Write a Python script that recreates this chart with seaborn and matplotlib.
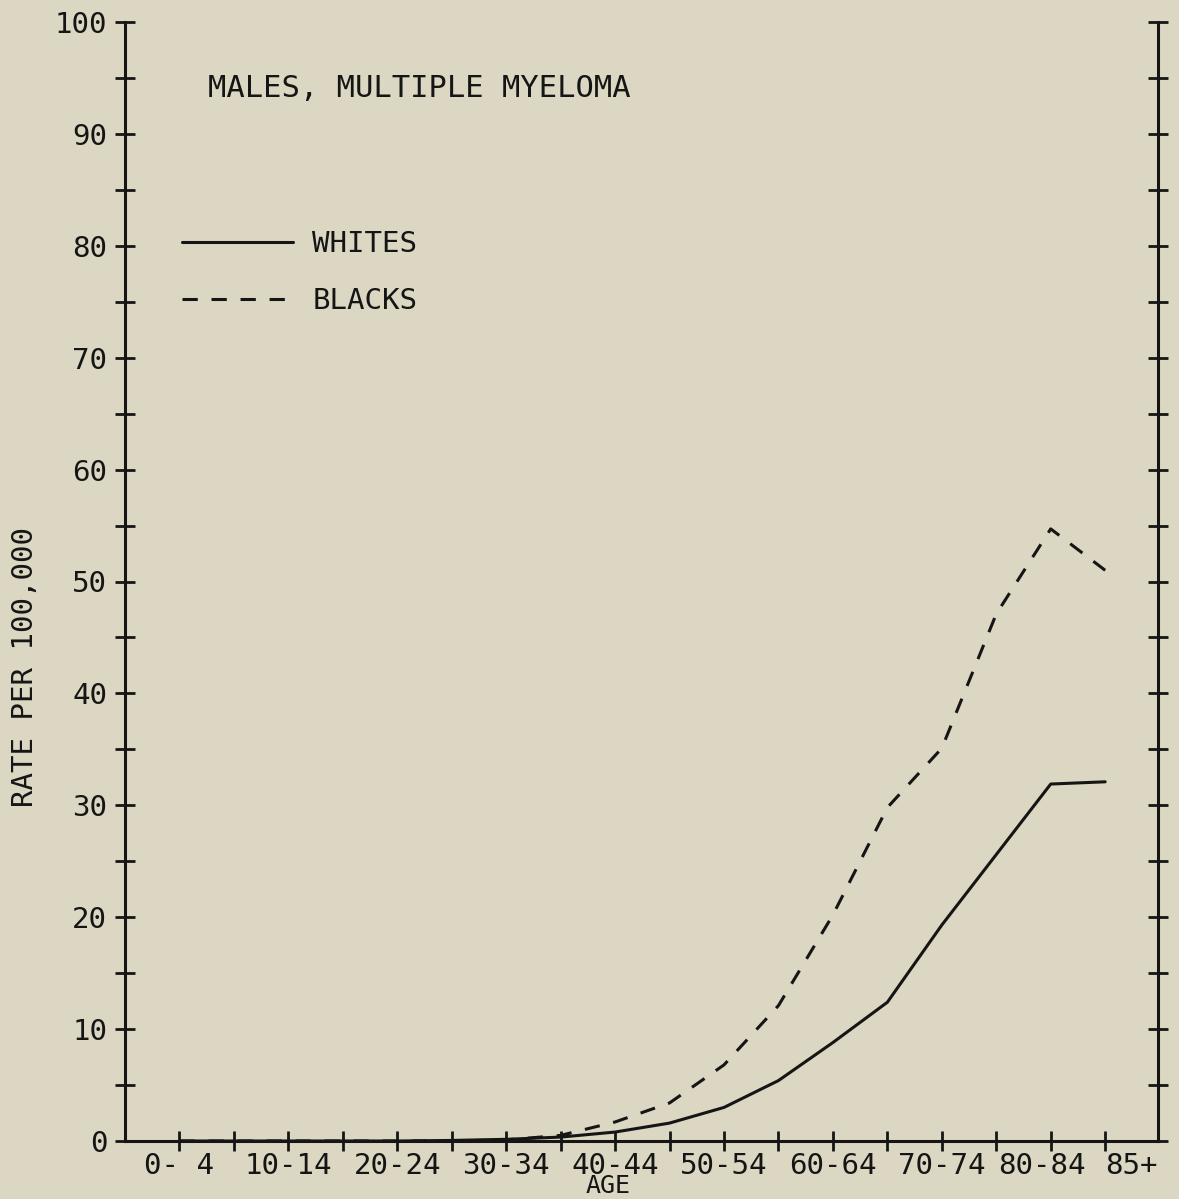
import numpy as np
import pandas as pd
import matplotlib
matplotlib.use('Agg')
import matplotlib.pyplot as plt
import matplotlib.transforms as mtransforms
from matplotlib.ticker import MultipleLocator, FixedLocator
import seaborn as sns

# age groups and rates per 100,000
ages = ['0-4', '5-9', '10-14', '15-19', '20-24', '25-29', '30-34', '35-39', '40-44',
        '45-49', '50-54', '55-59', '60-64', '65-69', '70-74', '75-79', '80-84', '85+']
whites = [0, 0, 0, 0, 0, 0.05, 0.15, 0.35, 0.8, 1.6, 3.0, 5.4, 8.8, 12.4, 19.3, 25.6, 31.9, 32.1]
blacks = [0, 0, 0, 0, 0, 0, 0.1, 0.5, 1.7, 3.4, 6.8, 12.1, 20.2, 29.8, 35.1, 47.1, 54.7, 51.0]
tick_text = ['0- 4', '', '10-14', '', '20-24', '', '30-34', '', '40-44', '',
             '50-54', '', '60-64', '', '70-74', '', '80-84', '85+']

bg = '#dcd7c2'
ink = '#151515'

sns.set_style('ticks')
plt.rcParams['font.family'] = ['DejaVu Sans Mono', 'DejaVu Sans']
plt.rcParams['text.color'] = ink
plt.rcParams['axes.labelcolor'] = ink

df = pd.DataFrame({
    'pos': list(range(len(ages))) * 2,
    'rate': whites + blacks,
    'race': ['WHITES'] * len(ages) + ['BLACKS'] * len(ages),
})

W, H = 1179, 1199
fig = plt.figure(figsize=(W / 100, H / 100), dpi=100)
fig.patch.set_facecolor(bg)
ax = fig.add_axes([125 / W, 1 - 1141 / H, (1158 - 125) / W, (1141 - 22) / H])
ax.set_facecolor(bg)

sns.lineplot(data=df, x='pos', y='rate', style='race', style_order=['WHITES', 'BLACKS'],
             dashes={'WHITES': '', 'BLACKS': (5, 4.5)}, color=ink, linewidth=2.2,
             sort=False, ax=ax)

ax.set_xlim(-1, 17.97)
ax.set_ylim(0, 100)

for s in ['left', 'right', 'bottom']:
    ax.spines[s].set_visible(True)
    ax.spines[s].set_linewidth(2.2)
    ax.spines[s].set_color(ink)
ax.spines['top'].set_visible(False)

ax.yaxis.set_major_locator(MultipleLocator(10))
ax.yaxis.set_minor_locator(MultipleLocator(5))
ax.xaxis.set_major_locator(FixedLocator(range(len(ages))))
ax.set_xticklabels(tick_text)

ax.tick_params(axis='both', which='both', direction='inout', length=14.4, width=2.0,
               color=ink, labelsize=21, labelcolor=ink)
ax.tick_params(axis='y', which='both', left=True, right=True, pad=5.5)
ax.tick_params(axis='x', pad=1.0)

# nudge the crowded last labels like the original
lbls = ax.get_xticklabels()
lbls[16].set_transform(lbls[16].get_transform() +
                       mtransforms.ScaledTranslation(-9 / 100, 0, fig.dpi_scale_trans))
lbls[17].set_horizontalalignment('left')

ax.set_xlabel('AGE', fontsize=18, labelpad=0)
ax.xaxis.set_label_coords(0.4676, -0.0465)
ax.xaxis.label.set_verticalalignment('baseline')
ax.set_ylabel('RATE PER 100,000', fontsize=21)
ax.yaxis.set_label_coords(-0.083, 0.424)

ax.text(0.080, 0.941, 'MALES, MULTIPLE MYELOMA', transform=ax.transAxes,
        fontsize=22, va='center', ha='left', color=ink)

handles, labels = ax.get_legend_handles_labels()
keep = [(h, l) for h, l in zip(handles, labels) if l in ('WHITES', 'BLACKS')]
ax.legend([k[0] for k in keep], [k[1] for k in keep], loc='upper left',
          bbox_to_anchor=(0.055, 0.814), frameon=False, fontsize=21,
          handlelength=3.8, handletextpad=0.68, labelspacing=1.0,
          borderpad=0, borderaxespad=0)

fig.savefig('out.png', dpi=100, facecolor=bg)
